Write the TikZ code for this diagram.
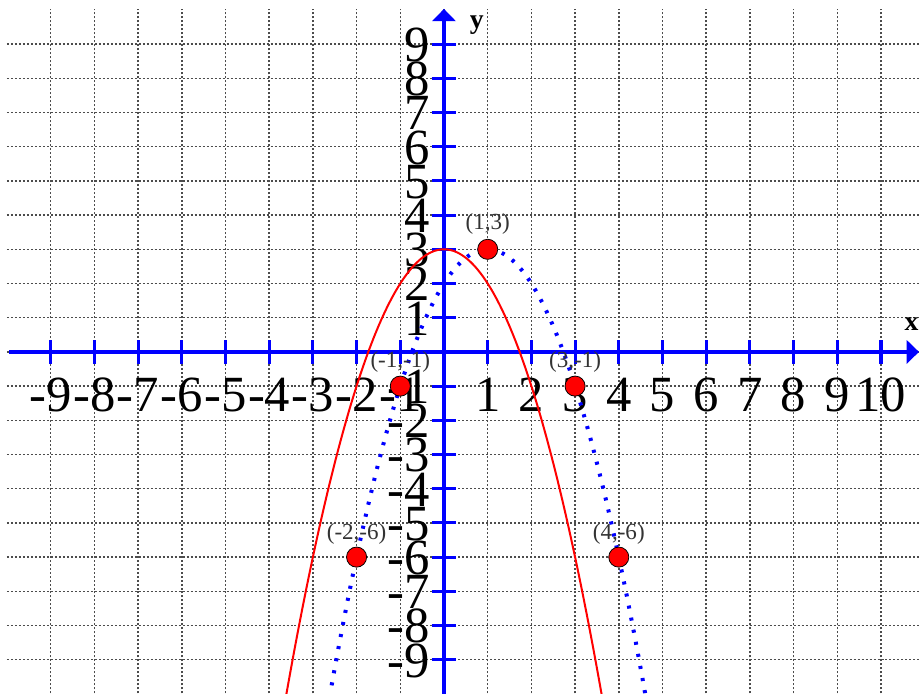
\documentclass[tikz,border=0pt]{standalone}
\usepackage{fontspec}
\setmainfont{Liberation Serif}
\usetikzlibrary{arrows.meta}
\begin{document}
\begin{tikzpicture}[x=1cm,y=0.7826cm,
 gridline/.style={draw=black!70, line width=1pt, dash pattern=on 1.3pt off 1.3pt},
 axis/.style={draw=blue, line width=2.6pt},
 tickmark/.style={draw=blue, line width=2pt},
 ticklabel/.style={font=\fontsize{33}{36}\selectfont, inner sep=0pt},
 axislabel/.style={font=\fontsize{18}{20}\selectfont\bfseries, inner sep=0pt},
 ptlabel/.style={font=\fontsize{15}{17}\selectfont, text=black!80, inner sep=0pt},
 pt/.style={circle, fill=red, draw=black, line width=0.5pt, minimum size=0.46cm, inner sep=0pt},
 redcurve/.style={draw=red, line width=1.3pt},
 bluecurve/.style={draw=blue, line width=2.6pt, dash pattern=on 2pt off 6pt}
]
\useasboundingbox (-10.16,-10.0) rectangle (10.87,10.29);
\begin{scope}
\clip (-10.16,-10.0) rectangle (10.87,10.29);
% grid
\foreach \i in {-9,...,9} \draw[gridline] (-10,\i) -- (10.9,\i);
\foreach \i in {-9,...,10} \draw[gridline] (\i,-10.1) -- (\i,10.02);
% axes
\coordinate (xs) at (-9.95,0);
\coordinate (xe) at (10.87,0);
\coordinate (ys) at (0,-10.1);
\coordinate (ye) at (0,10.03);
\draw[axis,-{Triangle[width=15pt,length=8pt]}] (xs) -- (xe);
\draw[axis,-{Triangle[width=15pt,length=8pt]}] (ys) -- (ye);
% ticks
\foreach \i in {-9,...,-1,1,2,...,10} \draw[tickmark] (\i,-0.36) -- (\i,0.36);
\foreach \i in {-9,...,-1,1,2,...,9} \draw[tickmark] (-0.28,\i) -- (0.28,\i);
% tick labels
\foreach \i in {-9,...,-1,1,2,...,10} \node[ticklabel, anchor=base] (xl\i) at (\i,-1.75) {\i};
\foreach \i in {-9,...,-1,1,2,...,9} \node[ticklabel, anchor=base east] (yl\i) at (-0.32,{\i-0.51}) {\i};
% axis labels
\node[axislabel] (ylab) at (0.75,9.55) {y};
\node[axislabel] (xlab) at (10.7,0.82) {x};
% curves
\draw[redcurve, domain=-3.62:3.62, samples=150, smooth] plot (\x,{3-\x*\x});
\draw[bluecurve, domain=-2.62:4.62, samples=150, smooth] plot (\x,{3-(\x-1)*(\x-1)});
% points
\node[pt] (p1) at (1,3) {};
\node[pt] (p2) at (-1,-1) {};
\node[pt] (p3) at (3,-1) {};
\node[pt] (p4) at (-2,-6) {};
\node[pt] (p5) at (4,-6) {};
\node[ptlabel] (lp1) at (1,3.73) {(1,3)};
\node[ptlabel] (lp2) at (-1,-0.29) {(-1,-1)};
\node[ptlabel] (lp3) at (3,-0.29) {(3,-1)};
\node[ptlabel] (lp4) at (-2,-5.33) {(-2,-6)};
\node[ptlabel] (lp5) at (4,-5.33) {(4,-6)};
\end{scope}
\end{tikzpicture}
\end{document}
